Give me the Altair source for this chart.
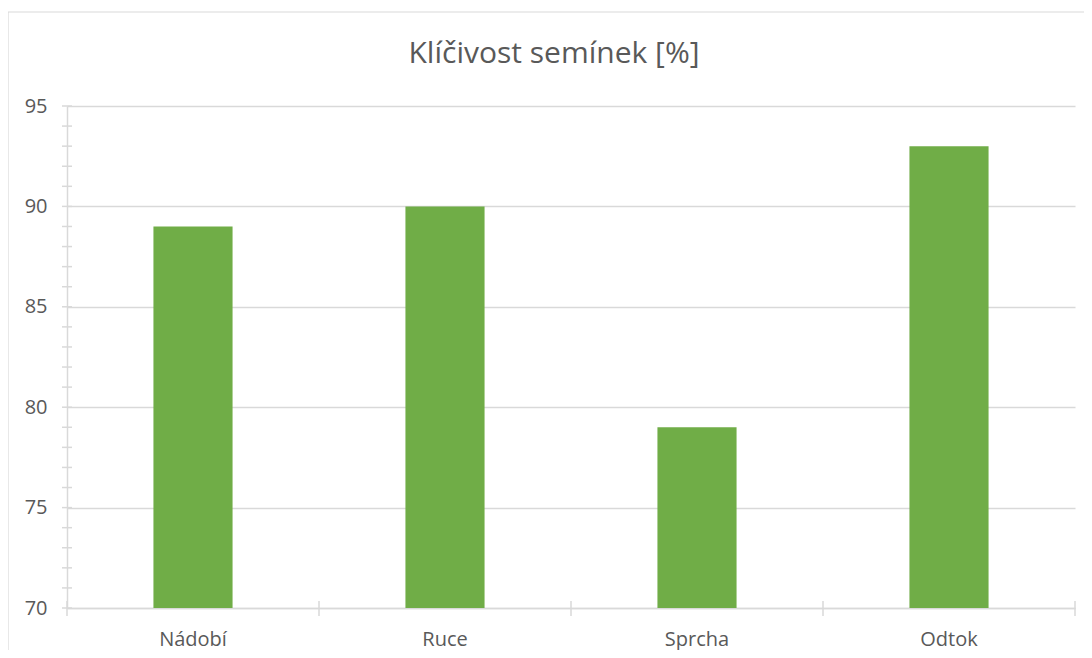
import altair as alt
import pandas as pd

categories = ["Nádobí", "Ruce", "Sprcha", "Odtok"]
values = [89, 90, 79, 93]
y_ticks = list(range(70, 96))
x_boundaries = [0, 1, 2, 3, 4]

df = pd.DataFrame({"kategorie": categories, "klicivost": values})
df_yticks = pd.DataFrame({"klicivost": y_ticks})
df_xticks = pd.DataFrame({"hranice": x_boundaries})

FONT = "Open Sans"
GRAY = "#D9D9D9"
TEXT = "#595959"

y_scale = alt.Scale(domain=[70, 95], nice=False, zero=False)

frame = alt.Chart(df).mark_rect(fill=None, stroke=GRAY, strokeWidth=1.2).encode(
    x=alt.value(-59), x2=alt.value(1200), y=alt.value(-94), y2=alt.value(800)
).transform_filter("datum.kategorie === 'Nádobí'")

bars = alt.Chart(df).mark_bar(color="#70AD47").encode(
    x=alt.X(
        "kategorie:N",
        sort=categories,
        scale=alt.Scale(paddingInner=0.686, paddingOuter=0.343),
        axis=alt.Axis(
            title=None,
            labelAngle=0,
            labelFont=FONT,
            labelFontSize=20,
            labelColor=TEXT,
            labelPadding=14,
            domainColor=GRAY,
            domainWidth=1.5,
            tickColor="transparent",
            tickSize=7,
            grid=False,
        ),
    ),
    y=alt.Y(
        "klicivost:Q",
        scale=y_scale,
        axis=alt.Axis(
            title=None,
            values=[70, 75, 80, 85, 90, 95],
            labelFont=FONT,
            labelFontSize=20,
            labelColor=TEXT,
            labelPadding=15,
            domainColor=GRAY,
            domainWidth=1.5,
            tickColor="transparent",
            tickSize=5,
            grid=True,
            gridColor=GRAY,
            gridWidth=1.5,
        ),
    ),
    y2=alt.datum(70),
)

y_minor = alt.Chart(df_yticks).mark_rule(color=GRAY, strokeWidth=1.5).encode(
    y=alt.Y("klicivost:Q", scale=y_scale),
    x=alt.value(-5),
    x2=alt.value(5),
)

x_ticks = alt.Chart(df_xticks).mark_rule(color=GRAY, strokeWidth=1.5).encode(
    x=alt.X("hranice:Q", scale=alt.Scale(domain=[0, 4], nice=False, zero=False), axis=None),
    y=alt.value(495),
    y2=alt.value(510),
)

chart = (
    alt.layer(frame, bars, y_minor, x_ticks)
    .resolve_scale(x="independent")
    .properties(
        width=1008,
        height=502,
        autosize=alt.AutoSizeParams(type="none"),
        padding={"left": 59, "top": 98, "right": 9, "bottom": 42},
        title=alt.TitleParams(
            "Klíčivost semínek [%]",
            font=FONT,
            fontSize=30,
            fontWeight="normal",
            color=TEXT,
            anchor="middle",
            dx=-17,
            offset=-58,
        ),
    )
    .configure_view(stroke=None)
)

chart.save("out.html", embed_options={"renderer": "svg", "actions": False})
